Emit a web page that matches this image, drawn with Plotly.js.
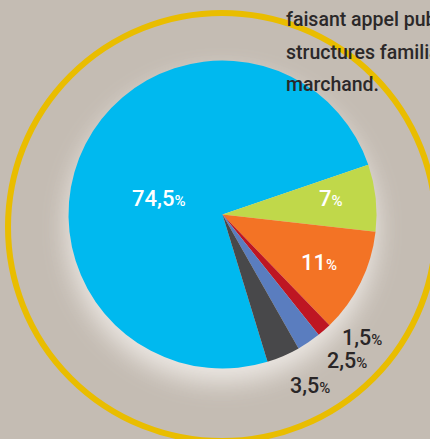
<!DOCTYPE html>
<html><head><meta charset="utf-8">
<script src="https://cdn.plot.ly/plotly-3.0.1.min.js"></script>
<style>
html,body{margin:0;padding:0;background:#c4bcb3;width:430px;height:439px;overflow:hidden;}
#wrap{position:relative;width:430px;height:439px;}
#glow{position:absolute;left:69px;top:62px;width:306px;height:306px;border-radius:50%;background:#e6e1dd;box-shadow:0 13px 26px 2px rgba(238,234,230,0.95);}
#chart{position:absolute;left:0;top:0;width:430px;height:439px;}
</style></head>
<body><div id="wrap"><div id="glow"></div><div id="chart"></div></div>
<script>
const categories = ['Catégorie 1','Catégorie 2','Catégorie 3','Catégorie 4','Catégorie 5','Catégorie 6'];
const shares = [74.5, 7, 11, 1.5, 2.5, 3.5];
const shareLabels = ['74,5','7','11','1,5','2,5','3,5'];
const sliceColors = ['#00b9ef','#c0d84a','#f37325','#be1622','#5a7dbf','#48484a'];
const noteLines = ['faisant appel public','structures familiales','marchand.'];

// label placement (layout only, in pixels from top-left)
const labelPos = [[158,198],[331,198],[319,262],[362,337],[347,360],[310,385]];
const labelInside = [true, true, true, false, false, false];

const FONT = 'Roboto, "DejaVu Sans", sans-serif';
const W = 430, H = 439;

const trace = {
  type: 'pie',
  labels: categories,
  values: shares,
  textinfo: 'none',
  marker: {colors: sliceColors, line: {width: 0}},
  sort: false,
  direction: 'clockwise',
  rotation: 163,
  domain: {x: [68.5 / W, 376.5 / W], y: [70.5 / H, 378.5 / H]},
  hoverinfo: 'label+percent',
  showlegend: false
};

const cx = 222, cy = 227, R = 214;
const annotations = noteLines.map((t, i) => ({
  text: t, xref: 'paper', yref: 'paper', x: 284 / W, y: 1 - (20 + i * 32) / H,
  xanchor: 'left', yanchor: 'middle', showarrow: false,
  font: {family: FONT, size: 19.5, color: '#2b2829', weight: 500}
}));

shareLabels.forEach((s, i) => {
  annotations.push({
    text: s + "<span style='font-size:15px'>%</span>",
    xref: 'paper', yref: 'paper',
    x: labelPos[i][0] / W, y: 1 - labelPos[i][1] / H,
    xanchor: 'center', yanchor: 'middle', showarrow: false,
    font: {family: FONT, size: labelInside[i] ? 22 : 21.5,
           color: labelInside[i] ? '#ffffff' : '#2a2627', weight: 500}
  });
});

const layout = {
  width: W, height: H,
  margin: {l: 0, r: 0, t: 0, b: 0},
  paper_bgcolor: 'rgba(0,0,0,0)',
  plot_bgcolor: 'rgba(0,0,0,0)',
  showlegend: false,
  shapes: [{
    type: 'circle', xref: 'paper', yref: 'paper', layer: 'below',
    x0: (cx - R) / W, x1: (cx + R) / W,
    y0: (H - cy - R) / H, y1: (H - cy + R) / H,
    line: {color: '#e9bd00', width: 6}
  }],
  annotations: annotations
};

Plotly.newPlot('chart', [trace], layout, {displayModeBar: false, staticPlot: true});
</script>
</body></html>
